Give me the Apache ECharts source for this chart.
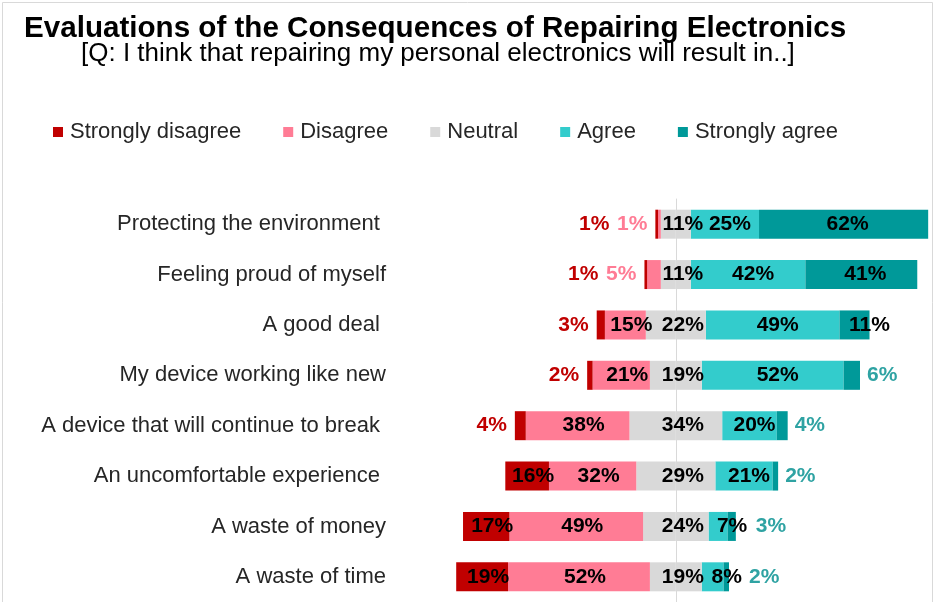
<!DOCTYPE html>
<html>
<head>
<meta charset="utf-8">
<script src="https://cdn.jsdelivr.net/npm/echarts@6/dist/echarts.min.js"></script>
<style>html,body{margin:0;padding:0;background:#fff;}#c{width:941px;height:602px;}</style>
</head>
<body>
<div id="c"></div>
<script>
var categories = [
  'Protecting the environment ',
  'Feeling proud of myself',
  'A good deal ',
  'My device working like new',
  'A device that will continue to break ',
  'An uncomfortable experience ',
  'A waste of money',
  'A waste of time'
];
var stronglyDisagree = [1, 1, 3, 2, 4, 16, 17, 19];
var disagree = [1, 5, 15, 21, 38, 32, 49, 52];
var neutral = [11, 11, 22, 19, 34, 29, 24, 19];
var agree = [25, 42, 49, 52, 20, 21, 7, 8];
var stronglyAgree = [62, 41, 11, 6, 4, 2, 3, 2];

var C_SD = '#C00000', C_D = '#FF7C95', C_N = '#D9D9D9', C_A = '#33CCCC', C_SA = '#009999';
var C_SA_TXT = '#2FA3A3';
var FONT = 'Liberation Sans, Arial, sans-serif';
var lblBase = {show: true, fontFamily: FONT, fontSize: 21, fontWeight: 'bold', color: '#000'};

var sdData = stronglyDisagree.map(function (v, i) {
  var lab;
  if (v >= 10) lab = Object.assign({}, lblBase, {position: 'inside', offset: [6, 0]});
  else lab = Object.assign({}, lblBase, {position: 'left', distance: 8, color: C_SD,
    offset: disagree[i] < 10 ? [-38, 0] : [0, 0]});
  return {value: -v, label: lab};
});
var dData = disagree.map(function (v, i) {
  var lab;
  if (v >= 10) lab = Object.assign({}, lblBase, {position: 'inside', offset: [6, 0]});
  else lab = Object.assign({}, lblBase, {position: 'left', distance: 8 + stronglyDisagree[i] * 2.7, color: C_D});
  return {value: -v, label: lab};
});
var nNegData = neutral.map(function (v) { return {value: -v / 2, label: {show: false}}; });
var nPosData = neutral.map(function (v) {
  return {value: v / 2, label: Object.assign({}, lblBase, {position: [7, '50%'], align: 'center', verticalAlign: 'middle'})};
});
var aData = agree.map(function (v) {
  return {value: v, label: Object.assign({}, lblBase, {position: 'inside', offset: [v < 10 ? 14 : 5, 0]})};
});
var saData = stronglyAgree.map(function (v, i) {
  var lab;
  if (v >= 10) lab = Object.assign({}, lblBase, {position: 'inside', offset: [v < 15 ? 15 : 4, 0]});
  else lab = Object.assign({}, lblBase, {position: 'right', color: C_SA_TXT, distance: agree[i] < 10 ? 20 : 7});
  return {value: v, label: lab};
});

function fmtFor(arr) { return function (p) { return arr[p.dataIndex] + '%'; }; }

var chart = echarts.init(document.getElementById('c'), null, {renderer: 'canvas'});
chart.setOption({
  animation: false,
  backgroundColor: '#fff',
  graphic: [{type: 'rect', shape: {x: 2.5, y: 2.5, width: 930, height: 640}, style: {fill: 'none', stroke: '#D9D9D9', lineWidth: 1}, silent: true, z: -1}],
  title: [
    {text: 'Evaluations of the Consequences of Repairing Electronics', left: 24, top: 14, padding: 0,
      textStyle: {fontFamily: FONT, fontSize: 29.6, fontWeight: 'bold', color: '#000'}},
    {text: '[Q: I think that repairing my personal electronics will result in..]', left: 81, top: 41, padding: 0,
      textStyle: {fontFamily: FONT, fontSize: 26, fontWeight: 'normal', color: '#000'}}
  ],
  legend: {
    left: 53, top: 121, padding: 0, itemWidth: 10, itemHeight: 10, itemGap: 42, icon: 'rect',
    data: ['Strongly disagree', 'Disagree', 'Neutral', 'Agree', 'Strongly agree'],
    textStyle: {fontFamily: FONT, fontSize: 22, color: '#262626', padding: [0, 0, 0, 2]}
  },
  grid: {left: 403, width: 532, top: 199, height: 405, containLabel: false},
  xAxis: {type: 'value', min: -100, max: 95, show: false, splitLine: {show: false}},
  yAxis: {
    type: 'category', data: categories, inverse: true,
    axisLine: {show: true, onZero: true, lineStyle: {color: '#D9D9D9', width: 1}},
    axisTick: {show: false},
    axisLabel: {show: true, fontFamily: FONT, fontSize: 22, color: '#262626', margin: 17}
  },
  series: [
    {name: 'Neutral', type: 'bar', stack: 'total', barWidth: 29, data: nNegData, itemStyle: {color: C_N}, z: 2},
    {name: 'Disagree', type: 'bar', stack: 'total', barWidth: 29, data: dData, itemStyle: {color: C_D}, label: {formatter: fmtFor(disagree)}, z: 2},
    {name: 'Strongly disagree', type: 'bar', stack: 'total', barWidth: 29, data: sdData, itemStyle: {color: C_SD}, label: {formatter: fmtFor(stronglyDisagree)}, z: 2},
    {name: 'Neutral', type: 'bar', stack: 'total', barWidth: 29, data: nPosData, itemStyle: {color: C_N}, label: {formatter: fmtFor(neutral)}, z: 3},
    {name: 'Agree', type: 'bar', stack: 'total', barWidth: 29, data: aData, itemStyle: {color: C_A}, label: {formatter: fmtFor(agree)}, z: 2},
    {name: 'Strongly agree', type: 'bar', stack: 'total', barWidth: 29, data: saData, itemStyle: {color: C_SA}, label: {formatter: fmtFor(stronglyAgree)}, z: 2}
  ]
});
</script>
</body>
</html>
